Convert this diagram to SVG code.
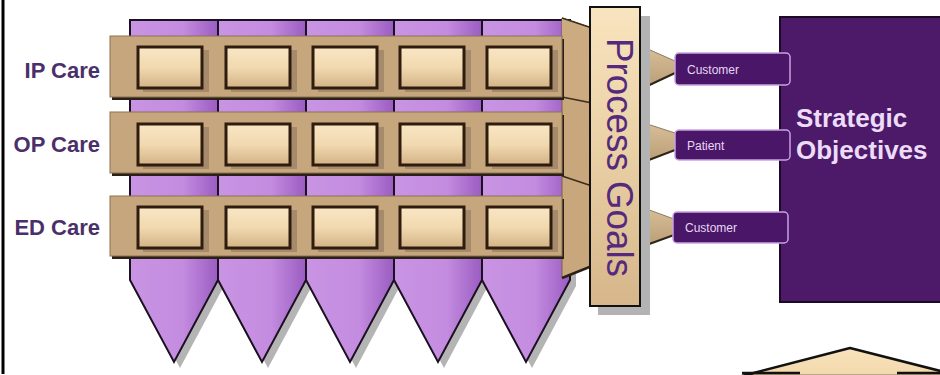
<svg xmlns="http://www.w3.org/2000/svg" width="940" height="375" viewBox="0 0 940 375">
<defs>
<linearGradient id="colGrad" x1="0" y1="0" x2="1" y2="0">
<stop offset="0" stop-color="#c994e4"/>
<stop offset="0.6" stop-color="#c48ce0"/>
<stop offset="1" stop-color="#9a5cc2"/>
</linearGradient>
<linearGradient id="boxGrad" x1="0" y1="0" x2="0" y2="1">
<stop offset="0" stop-color="#f9e6c4"/>
<stop offset="0.5" stop-color="#f1d9b0"/>
<stop offset="1" stop-color="#d3b286"/>
</linearGradient>
<linearGradient id="pgGrad" x1="0" y1="0" x2="0" y2="1">
<stop offset="0" stop-color="#f8e4bf"/>
<stop offset="0.5" stop-color="#e9cfa4"/>
<stop offset="1" stop-color="#d6b68a"/>
</linearGradient>
<linearGradient id="wedgeGrad" x1="0" y1="0" x2="0" y2="1">
<stop offset="0" stop-color="#d9c09a"/>
<stop offset="1" stop-color="#b89c74"/>
</linearGradient>
<linearGradient id="arrowGrad" x1="0" y1="0" x2="0" y2="1">
<stop offset="0" stop-color="#f8e3bd"/>
<stop offset="1" stop-color="#f3d8ab"/>
</linearGradient>
<style>
.col{fill:url(#colGrad);stroke:#1a1020;stroke-width:2;stroke-linejoin:miter}
.colsh{fill:#777;opacity:0.55}
.band{fill:#c6a67c;stroke:#8c7352;stroke-width:1}
.bandsh{fill:#2a2018}
.box{fill:url(#boxGrad);stroke:#2e1d0e;stroke-width:3}
.boxsh{fill:#8f7a62;opacity:0.6}
.rowlbl{font-family:"Liberation Sans",Arial,sans-serif;font-weight:bold;font-size:22px;fill:#4b2f6a;text-anchor:end}
.goal{fill:#4a1668;stroke:#c7a2e2;stroke-width:1.5}
.goaltxt{font-family:"Liberation Sans",Arial,sans-serif;font-size:12px;fill:#e6d6f4}
.wedge{fill:url(#wedgeGrad)}
.wedgeln{fill:none;stroke:#2e2418;stroke-width:2}
</style>
</defs>
<rect width="940" height="375" fill="#ffffff"/>
<line x1="3" y1="0" x2="3" y2="374" stroke="#000" stroke-width="3"/>

<g id="columns">
<polygon class="colsh" points="136,26 224,26 224,286 180,368 136,286"/>
<polygon class="colsh" points="224,26 312,26 312,286 268,368 224,286"/>
<polygon class="colsh" points="312,26 400,26 400,286 356,368 312,286"/>
<polygon class="colsh" points="400,26 488,26 488,286 444,368 400,286"/>
<polygon class="colsh" points="488,26 576,26 576,286 532,368 488,286"/>
<polygon class="col" points="130,20 218,20 218,280 174,362 130,280"/>
<polygon class="col" points="218,20 306,20 306,280 262,362 218,280"/>
<polygon class="col" points="306,20 394,20 394,280 350,362 306,280"/>
<polygon class="col" points="394,20 482,20 482,280 438,362 394,280"/>
<polygon class="col" points="482,20 570,20 570,280 526,362 482,280"/>
</g>

<g id="right-face">
<polygon points="562,18 592,28 592,266 562,278" fill="#c9a77c" stroke="#7a6245" stroke-width="1"/>
<polygon points="562,18 592,28 592,100 562,97" fill="#cdab80"/>
<line x1="562" y1="18" x2="592" y2="28" stroke="#3a2c1e" stroke-width="1.5"/>
<line x1="562" y1="97" x2="592" y2="103" stroke="#3a2c1e" stroke-width="1.5"/>
<line x1="562" y1="176" x2="592" y2="186" stroke="#3a2c1e" stroke-width="1.5"/>
<line x1="562" y1="278" x2="592" y2="266" stroke="#2a2018" stroke-width="2.5"/>
</g>

<g id="ip-care">
<rect class="bandsh" x="112" y="39" width="452" height="61"/>
<rect class="band" x="110" y="36" width="452" height="61"/>
<rect class="boxsh" x="143" y="50" width="66" height="42"/>
<rect class="boxsh" x="231" y="50" width="66" height="42"/>
<rect class="boxsh" x="318" y="50" width="66" height="42"/>
<rect class="boxsh" x="405" y="50" width="66" height="42"/>
<rect class="boxsh" x="492" y="50" width="66" height="42"/>
<rect class="box" x="138" y="47" width="64" height="41"/>
<rect class="box" x="226" y="47" width="64" height="41"/>
<rect class="box" x="313" y="47" width="64" height="41"/>
<rect class="box" x="400" y="47" width="64" height="41"/>
<rect class="box" x="487" y="47" width="64" height="41"/>
<text class="rowlbl" x="100" y="78">IP Care</text>
</g>

<g id="op-care">
<rect class="bandsh" x="112" y="115" width="452" height="61"/>
<rect class="band" x="110" y="112" width="452" height="61"/>
<rect class="boxsh" x="143" y="127" width="66" height="42"/>
<rect class="boxsh" x="231" y="127" width="66" height="42"/>
<rect class="boxsh" x="318" y="127" width="66" height="42"/>
<rect class="boxsh" x="405" y="127" width="66" height="42"/>
<rect class="boxsh" x="492" y="127" width="66" height="42"/>
<rect class="box" x="138" y="124" width="64" height="41"/>
<rect class="box" x="226" y="124" width="64" height="41"/>
<rect class="box" x="313" y="124" width="64" height="41"/>
<rect class="box" x="400" y="124" width="64" height="41"/>
<rect class="box" x="487" y="124" width="64" height="41"/>
<text class="rowlbl" x="100" y="152">OP Care</text>
</g>

<g id="ed-care">
<rect class="bandsh" x="112" y="199" width="452" height="60"/>
<rect class="band" x="110" y="196" width="452" height="60"/>
<rect class="boxsh" x="143" y="210" width="66" height="42"/>
<rect class="boxsh" x="231" y="210" width="66" height="42"/>
<rect class="boxsh" x="318" y="210" width="66" height="42"/>
<rect class="boxsh" x="405" y="210" width="66" height="42"/>
<rect class="boxsh" x="492" y="210" width="66" height="42"/>
<rect class="box" x="138" y="207" width="64" height="41"/>
<rect class="box" x="226" y="207" width="64" height="41"/>
<rect class="box" x="313" y="207" width="64" height="41"/>
<rect class="box" x="400" y="207" width="64" height="41"/>
<rect class="box" x="487" y="207" width="64" height="41"/>
<text class="rowlbl" x="100" y="235">ED Care</text>
</g>

<g id="strategic-objectives">
<rect x="780" y="17" width="165" height="285" fill="#4d1a6a" stroke="#1c0a26" stroke-width="2"/>
<text font-family="Liberation Sans,Arial,sans-serif" font-weight="bold" font-size="26" fill="#ecdcf8">
<tspan x="796" y="127">Strategic</tspan>
<tspan x="796" y="159">Objectives</tspan>
</text>
</g>

<g id="connectors">
<polygon class="wedge" points="641,46 675,61 675,74 641,89"/>
<line class="wedgeln" x1="641" y1="89" x2="675" y2="73"/>
<line x1="641" y1="46" x2="675" y2="61" stroke="#8d7a60" stroke-width="1"/>
<polygon class="wedge" points="641,122 675,133 675,150 641,163"/>
<line class="wedgeln" x1="641" y1="163" x2="675" y2="150"/>
<line x1="641" y1="122" x2="675" y2="133" stroke="#8d7a60" stroke-width="1"/>
<polygon class="wedge" points="641,207 674,219 674,235 641,247"/>
<line class="wedgeln" x1="641" y1="247" x2="674" y2="235"/>
<line x1="641" y1="207" x2="674" y2="219" stroke="#8d7a60" stroke-width="1"/>
</g>

<g id="process-goals">
<rect x="598" y="16" width="52" height="299" fill="#b3b3b3"/>
<rect x="590" y="7" width="50" height="299" fill="url(#pgGrad)" stroke="#111" stroke-width="2"/>
<text transform="translate(607,38) rotate(90)" x="0" y="0" font-family="Liberation Sans,Arial,sans-serif" font-size="36" fill="#552a7c" textLength="239" lengthAdjust="spacingAndGlyphs">Process Goals</text>
</g>

<g id="goal-customer-1">
<rect class="goal" x="675" y="53" width="115" height="32" rx="4"/>
<text class="goaltxt" x="687" y="74">Customer</text>
</g>
<g id="goal-patient">
<rect class="goal" x="675" y="130" width="115" height="30" rx="4"/>
<text class="goaltxt" x="687" y="150">Patient</text>
</g>
<g id="goal-customer-2">
<rect class="goal" x="673" y="212" width="115" height="31" rx="4"/>
<text class="goaltxt" x="685" y="232">Customer</text>
</g>

<g id="up-arrow">
<polygon points="742,376 850,348 960,376" fill="url(#arrowGrad)" stroke="#111" stroke-width="2.5" stroke-linejoin="round"/>
<line x1="742" y1="373" x2="800" y2="373" stroke="#111" stroke-width="2.5"/>
<line x1="897" y1="373" x2="945" y2="373" stroke="#111" stroke-width="2.5"/>
</g>
</svg>
